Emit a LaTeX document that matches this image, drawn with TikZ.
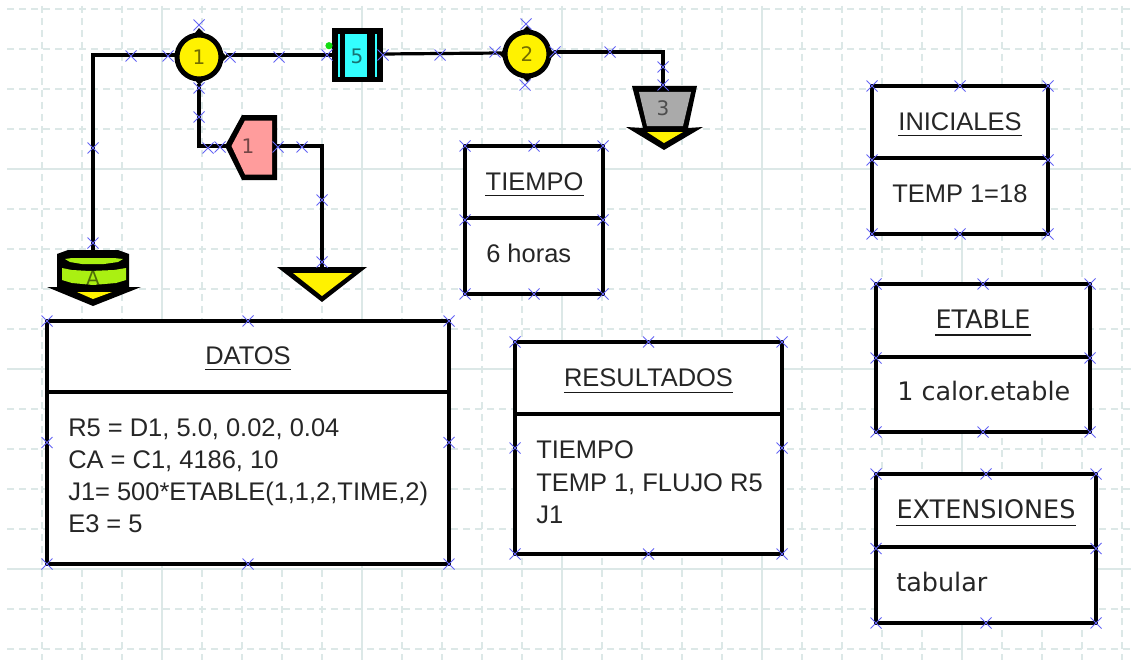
\documentclass[tikz,border=0pt]{standalone}
\usepackage{fontspec}
\setmainfont{Liberation Sans}
\newfontfamily\dejaf{DejaVu Sans}
\usetikzlibrary{calc}
\definecolor{gridc}{HTML}{DCE8E7}
\definecolor{xblue}{HTML}{6464F5}
\definecolor{lime}{HTML}{AAF012}
\definecolor{pinkf}{HTML}{FF9C9C}
\definecolor{cyanf}{HTML}{33FFFF}
\definecolor{grayf}{HTML}{AAAAAA}
\definecolor{dotg}{HTML}{11DD11}
\tikzset{
  x=.75pt,y=-.75pt,
  gridsolid/.style={gridc,line width=.9pt},
  griddash/.style={gridc,line width=.9pt,dash pattern=on 5.2pt off 3.8pt},
  wire/.style={black,line width=2.4pt,line join=miter},
  frame/.style={black,line width=2.4pt},
  xm/.style={xblue,line width=.65pt},
  ar/.style={font=\fontsize{19.1}{22}\selectfont,inner sep=0pt,anchor=base west,text=black!85},
  dj/.style={font=\dejaf\fontsize{19.1}{22}\selectfont,inner sep=0pt,anchor=base west,text=black!85},
  ttl/.style={anchor=base},
  sym/.style={font=\dejaf\fontsize{15}{18}\selectfont,inner sep=0pt,text opacity=.55,text=black},
  junction/.style={circle,draw=black,fill=yellow,line width=3.75pt,minimum size=33pt,inner sep=0pt},
  uline/.style={black!90,line width=1.1pt},
}
\newcommand{\xmk}[2]{\draw[xm] (#1,#2) ++(-5.5,-5.5) -- ++(11,11) (#1,#2) ++(-5.5,5.5) -- ++(11,-11);}
\newcommand{\ubox}[5]{%
  \draw[frame,fill=white] (#1,#2) rectangle (#3,#5);
  \draw[frame] (#1,#4) -- (#3,#4);
  \pgfmathsetmacro{\mx}{(#1+#3)/2}\pgfmathsetmacro{\my}{(#2+#5)/2}%
  \xmk{#1}{#2}\xmk{\mx}{#2}\xmk{#3}{#2}\xmk{#1}{\my}\xmk{#3}{\my}\xmk{#1}{#5}\xmk{\mx}{#5}\xmk{#3}{#5}}
\newcommand{\utitle}[6]{% name, style, cx, baseline, underline offset, text
  \node[#2,ttl] (#1) at (#3,#4) {#6};
  \draw[uline] ($(#1.base west)+(0,#5)$) -- ($(#1.base east)+(0,#5)$);}
\begin{document}
\begin{tikzpicture}
\useasboundingbox (0,0) rectangle (1131,660);
\fill[white] (0,0) rectangle (1131,660);
% grid
\foreach \v in {42,82,122,202,242,282,322,402,442,482,522,602,642,682,722,802,842,882,922,1002,1042,1082,1122}
  \draw[griddash] (\v,6) -- (\v,660);
\foreach \h in {9,49,89,129,209,249,289,329,409,449,489,529,609,649}
  \draw[griddash] (7,\h) -- (1131,\h);
\foreach \v in {162,362,562,762,962}
  \draw[gridsolid] (\v,6) -- (\v,660);
\foreach \h in {169,369,569}
  \draw[gridsolid] (7,\h) -- (1131,\h);
% ports
\coordinate (aTop) at (93,250);
\coordinate (j1W) at (176,55);
\coordinate (j1E) at (226,55);
\coordinate (j1S) at (199,84);
\coordinate (r5W) at (332,55);
\coordinate (r5E) at (383,54);
\coordinate (j2W) at (501,53);
\coordinate (j2E) at (553,52);
\coordinate (t3Top) at (663,87);
\coordinate (r1W) at (227,146);
\coordinate (r1E) at (276,146);
\coordinate (sTop) at (322,268);
% wires
\draw[wire] (j1W) -| (aTop);
\draw[wire] (j1E) -- (r5W);
\draw[wire] (r5E) -- (j2W);
\draw[wire] (j2E) -| (t3Top);
\draw[wire] (j1S) |- (r1W);
\draw[wire] (r1E) -| (sTop);
% junctions
\fill (199,28) -- (227,57) -- (199,85) -- (176,57) -- cycle;
\node[junction,sym] (j1) at (199,57) {1};
\fill (527,26) -- (555,54) -- (527,82) -- (499,54) -- cycle;
\node[junction,sym] (j2) at (527,54) {2};
% R5
\fill (332,28) rectangle (383,82);
\fill[cyanf] (345,34) rectangle (367,77);
\fill[cyanf] (337.5,34) rectangle (339.5,77);
\fill[cyanf] (374.5,34) rectangle (377,77);
\node[sym] (r5) at (357,56) {5};
\fill[dotg] (329,45.7) circle (3.6);
% pink R1
\fill (225,146) -- (242,115) -- (277,115) -- (277,180) -- (242,180) -- cycle;
\fill[pinkf] (231.5,146) -- (245,120.5) -- (272,120.5) -- (272,174.5) -- (245,174.5) -- cycle;
\node[sym] (r1) at (248,146) {1};
% sink
\fill (277,267) -- (367,267) -- (322,302) -- cycle;
\fill[yellow] (293,273) -- (352,273) -- (322,296) -- cycle;
% storage A
\fill (57,287) -- (57,254) -- (68,250) -- (118,250) -- (129,254) -- (129,287) -- (141,287) -- (93,306) -- (47,287) -- cycle;
\fill[lime] (65,259) -- (72,258) -- (114,258) -- (123,259) -- (118,262) -- (104,264) -- (82,264) -- (70,262) -- cycle;
\fill[lime] (62,268) -- (72,270) -- (90,271) -- (114,270) -- (126,268) -- (126,280) -- (116,283) -- (93,285) -- (72,283) -- (62,280) -- cycle;
\fill[yellow] (77,292) -- (112,292) -- (93,299) -- cycle;
\node[sym] (a) at (93,278) {A};
% tank 3
\fill (632,86) -- (697,86) -- (688,128) -- (703,127) -- (664,150) -- (626,127) -- (643,128) -- cycle;
\fill[grayf] (639,92) -- (691,92) -- (683,126) -- (647,126) -- cycle;
\fill[yellow] (647,132) -- (683,132) -- (664,143) -- cycle;
\node[sym] (t3) at (663,108) {3};
% wire marks
\foreach \a/\b in {131/56,168/56,199/25,230/57,279/57,327/55,383/55,440/55,
  199/88,199/117,208/148,220/147,278/147,302/147,322/200,93/148,93/243,322/262,
  495/52,555/52,526/24,525/85,610/52,663/67,663/85}
  {\xmk{\a}{\b}}
% boxes
\ubox{47}{321}{449}{392}{564}
\utitle{datosT}{ar}{248}{364}{5.5}{DATOS}
\node[ar] (d1) at (68,436) {R5 = D1, 5.0, 0.02, 0.04};
\node[ar] (d2) at (68,468) {CA = C1, 4186, 10};
\node[ar] (d3) at (68,500) {J1= 500*ETABLE(1,1,2,TIME,2)};
\node[ar] (d4) at (68,532) {E3 = 5};

\ubox{515}{342}{782}{414}{554}
\utitle{resT}{ar}{648.5}{386}{6.5}{RESULTADOS}
\node[ar] (r1t) at (536,458) {TIEMPO};
\node[ar] (r2t) at (536,491) {TEMP 1, FLUJO R5};
\node[ar] (r3t) at (536,523) {J1};

\ubox{465}{146}{603}{218}{294}
\utitle{tiemT}{ar}{534.5}{190}{5.5}{TIEMPO}
\node[ar] (t1) at (486,262) {6 horas};

\ubox{872}{86}{1048}{158}{234}
\utitle{iniT}{ar}{960}{130}{5.5}{INICIALES}
\node[ar] (i1) at (892,202) {TEMP 1=18};

\ubox{876}{284}{1090}{357}{432}
\utitle{etaT}{dj}{983}{328}{7}{ETABLE}
\node[dj] (e1) at (897,400) {1 calor.etable};

\ubox{876}{474}{1096}{547}{623}
\utitle{extT}{dj}{986}{518}{7.5}{EXTENSIONES}
\node[dj] (x1) at (896,591) {tabular};
\end{tikzpicture}
\end{document}
